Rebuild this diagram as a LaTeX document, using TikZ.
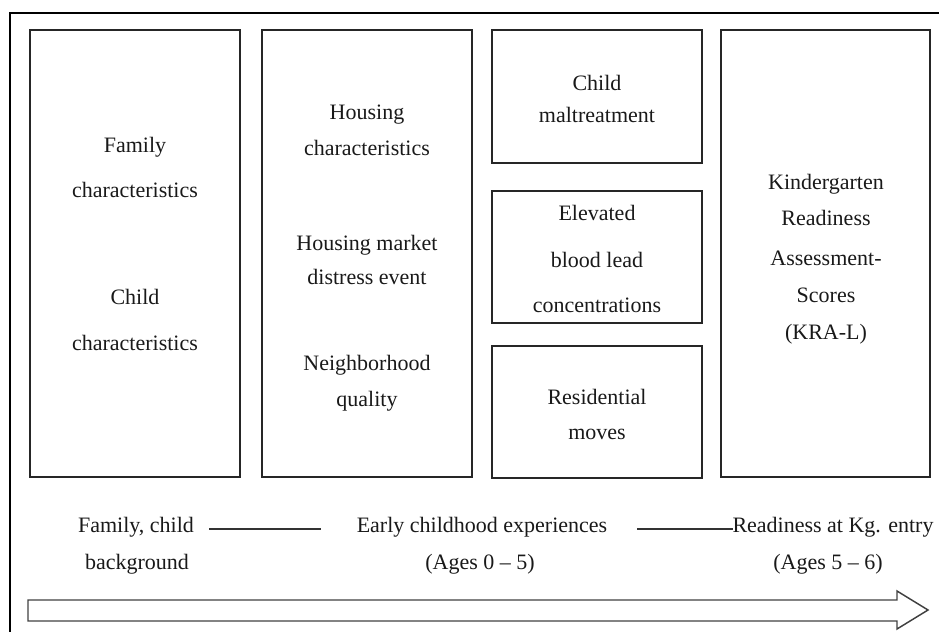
\documentclass[tikz,border=0pt]{standalone}
\usepackage{fontspec}
\setmainfont{Liberation Serif}
\usetikzlibrary{fit}
\begin{document}
\begin{tikzpicture}[x=0.75pt,y=-0.75pt,
  box/.style={draw=black!85, line width=1.3pt, inner sep=0pt},
  txt/.style={font=\fontsize{16.5}{19.8}\selectfont, inner sep=0pt, anchor=base, text=black!90},
  rule/.style={draw=black!80, line width=1.1pt},
  frame/.style={draw=black, line width=2.2pt}]
\useasboundingbox (0,0) rectangle (939,632);
% outer frame (open to the right and bottom)
\coordinate (fr1) at (939,13);
\coordinate (fr2) at (10,13);
\coordinate (fr3) at (10,632);
\draw[frame] (fr1) -- (fr2) -- (fr3);
% boxes
\node[box, fit={(30,30) (240,477)}] (b1) {};
\node[box, fit={(262,30) (472,477)}] (b2) {};
\node[box, fit={(492,30) (702,163)}] (b3a) {};
\node[box, fit={(492,191) (702,323)}] (b3b) {};
\node[box, fit={(492,346) (702,478)}] (b3c) {};
\node[box, fit={(721,30) (930,477)}] (b4) {};
% box 1
\node[txt] (t1a) at (135,152) {Family};
\node[txt] (t1b) at (135,197) {characteristics};
\node[txt] (t1c) at (135,304) {Child};
\node[txt] (t1d) at (135,350) {characteristics};
% box 2
\node[txt] (t2a) at (367,119) {Housing};
\node[txt] (t2b) at (367,155) {characteristics};
\node[txt] (t2c) at (367,250) {Housing market};
\node[txt] (t2d) at (367,284) {distress event};
\node[txt] (t2e) at (367,370) {Neighborhood};
\node[txt] (t2f) at (367,406) {quality};
% box 3
\node[txt] (t3a) at (597,90) {Child};
\node[txt] (t3b) at (597,122) {maltreatment};
\node[txt] (t3c) at (597,220) {Elevated};
\node[txt] (t3d) at (597,267) {blood lead};
\node[txt] (t3e) at (597,312) {concentrations};
\node[txt] (t3f) at (597,404) {Residential};
\node[txt] (t3g) at (597,439) {moves};
% box 4
\node[txt] (t4a) at (826,189) {Kindergarten};
\node[txt] (t4b) at (826,225) {Readiness};
\node[txt] (t4c) at (826,265) {Assessment-};
\node[txt] (t4d) at (826,302) {Scores};
\node[txt] (t4e) at (826,339) {(KRA-L)};
% bottom labels
\node[txt] (l1a) at (136,532) {Family, child};
\node[txt] (l1b) at (137,569) {background};
\node[txt] (l2a) at (482,532) {Early childhood experiences};
\node[txt] (l2b) at (480,569) {(Ages 0 – 5)};
\node[txt] (l3a) at (833,532) {Readiness at Kg. entry};
\node[txt] (l3b) at (828,569) {(Ages 5 – 6)};
% connecting rules
\coordinate (r1s) at (209,529);
\coordinate (r1e) at (321,529);
\coordinate (r2s) at (637,529);
\coordinate (r2e) at (733,529);
\draw[rule] (r1s) -- (r1e);
\draw[rule] (r2s) -- (r2e);
% block arrow
\coordinate (a1) at (28,600);
\coordinate (a2) at (897,600);
\coordinate (a3) at (897,591);
\coordinate (a4) at (928,610);
\coordinate (a5) at (897,629);
\coordinate (a6) at (897,621);
\coordinate (a7) at (28,621);
\draw[draw=black!75, line width=1.1pt, line join=miter] (a1) -- (a2) -- (a3) -- (a4) -- (a5) -- (a6) -- (a7) -- cycle;
\end{tikzpicture}
\end{document}
